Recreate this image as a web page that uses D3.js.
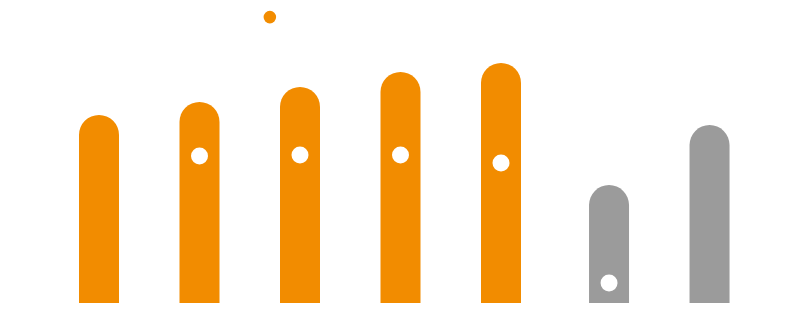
<!DOCTYPE html>
<html><head><meta charset="utf-8">
<script src="https://cdn.jsdelivr.net/npm/d3@7"></script>
<style>html,body{margin:0;padding:0;background:#fff;}svg{display:block;}</style>
</head><body>
<svg id="chart" width="800" height="327"></svg>
<script>
const categories = ["A", "B", "C", "D", "E", "F", "G"];
const groups = [0, 0, 0, 0, 0, 1, 1];
const barValues = [62.7, 67.0, 72.0, 77.0, 80.0, 39.3, 59.3];
const markerValues = [null, 49.0, 49.3, 49.3, 46.7, 6.7, null];
const highlightPos = [1.7];
const highlightValue = [95.3];
const colors = ["#F28C00", "#9B9B9B"];

const svg = d3.select("#chart");
const baseY = 303;
const x = d3.scaleLinear().domain([0, 6]).range([99, 99 + 100.5 * 6]);
const groupGap = 0.075;
const pos = i => x(i + groups[i] * groupGap);
const y = d3.scaleLinear().domain([0, 100]).range([baseY, 3]);
const bw = 40, r = bw / 2;

function barPath(cx, top) {
  const x0 = cx - r, x1 = cx + r;
  return `M${x0},${baseY}L${x0},${top + r}A${r},${r} 0 0 1 ${x1},${top + r}L${x1},${baseY}Z`;
}

svg.append("g").selectAll("path").data(barValues).join("path")
  .attr("d", (d, i) => barPath(pos(i), y(d)))
  .attr("fill", (d, i) => colors[groups[i]]);

svg.append("g").selectAll("circle")
  .data(markerValues.map((v, i) => ({v, i})).filter(d => d.v !== null))
  .join("circle")
  .attr("cx", d => pos(d.i))
  .attr("cy", d => y(d.v))
  .attr("r", 8.5)
  .attr("fill", "#fff");

svg.append("g").selectAll("circle").data(highlightValue).join("circle")
  .attr("cx", (d, i) => x(highlightPos[i]))
  .attr("cy", d => y(d))
  .attr("r", 6.3)
  .attr("fill", colors[0]);
</script>
</body></html>
